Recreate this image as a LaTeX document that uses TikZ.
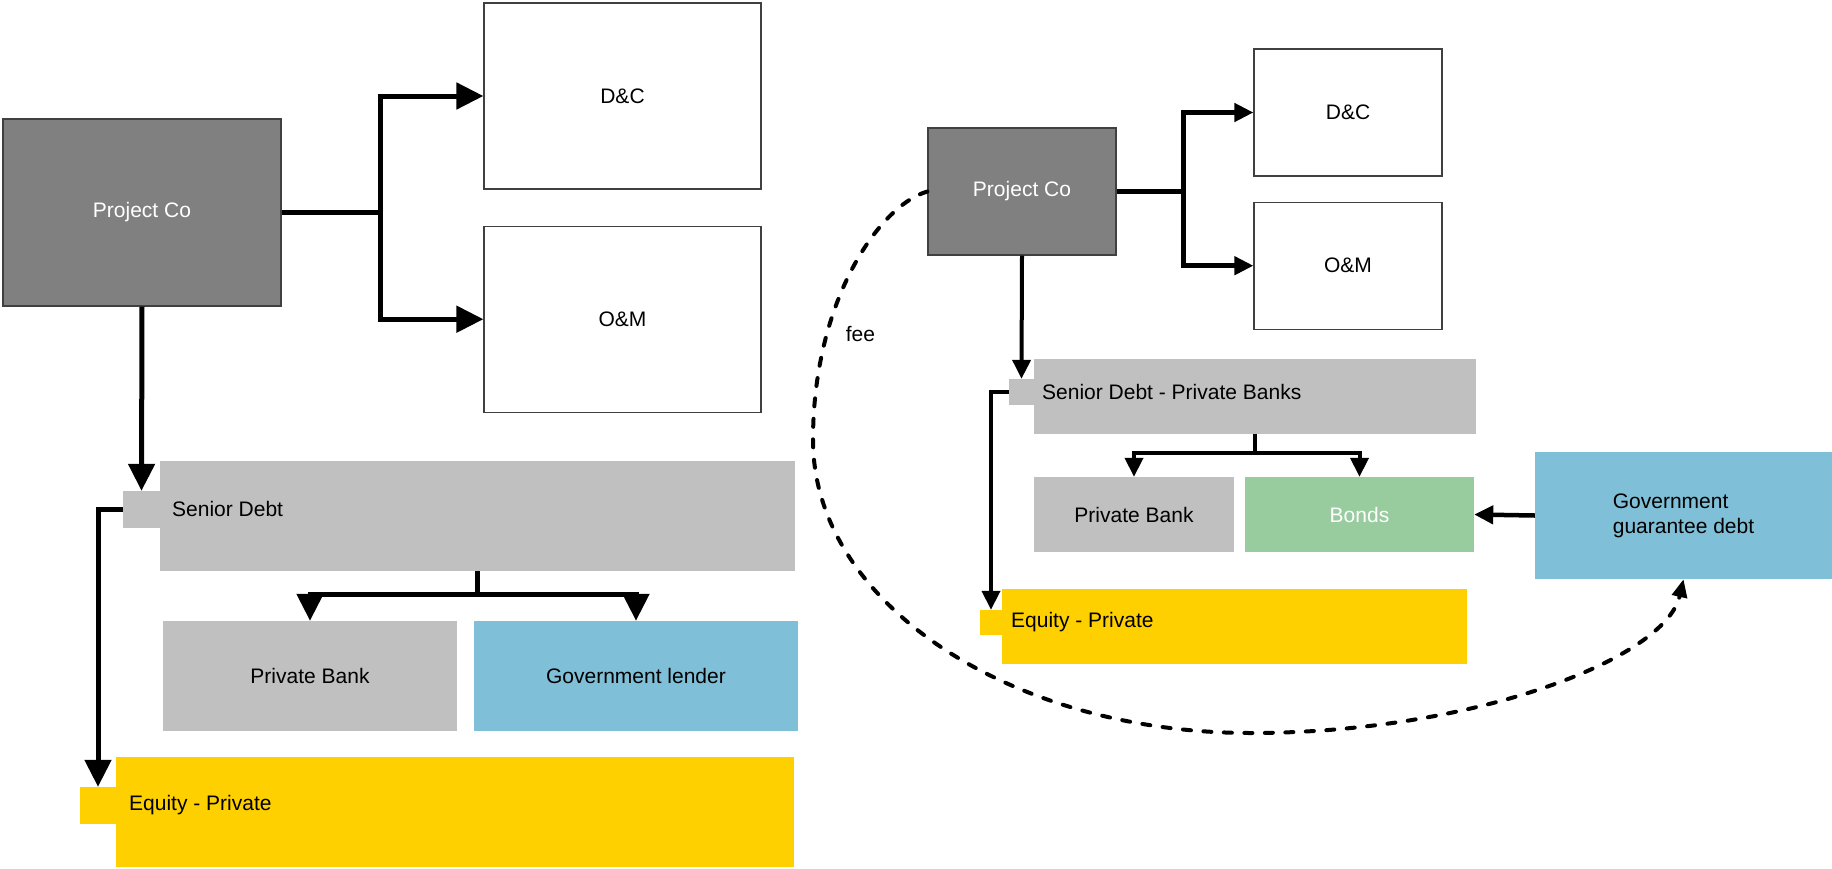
\documentclass[tikz,border=0pt]{standalone}
\usepackage{fontspec}
\setmainfont{Liberation Sans}
\usepackage{xcolor}
\usepackage{tikz}
\usetikzlibrary{arrows.meta, positioning}

\definecolor{pcgray}{HTML}{808080}
\definecolor{debtgray}{HTML}{C0C0C0}
\definecolor{govblue}{HTML}{7FBFD7}
\definecolor{eqyellow}{HTML}{FFD000}
\definecolor{bondgreen}{HTML}{98CB9E}

\begin{document}
\begin{tikzpicture}[x=1pt, y=-1pt, font=\fontsize{21}{25}\selectfont]
\tikzstyle{company} = [rectangle, draw=black!75, line width=1.2pt, fill=pcgray, text=white, inner sep=0pt]
\tikzstyle{contract} = [rectangle, draw=black!75, line width=1.2pt, fill=white, inner sep=0pt]
\tikzstyle{fund} = [rectangle, inner sep=0pt]
\tikzstyle{caption} = [inner sep=0pt, anchor=west]
\tikzstyle{line} = [draw, line width=5pt]
\tikzstyle{bigarrow} = [line, -{Triangle[length=27pt, width=26pt]}]
\tikzstyle{smallarrow} = [line, line width=4.5pt, -{Triangle[length=19pt, width=18pt]}]
\tikzstyle{feeline} = [draw, line width=4pt, line cap=round, dash pattern=on 8pt off 12.5pt, -{Triangle[length=18pt, width=15pt]}]

\useasboundingbox (0,0) rectangle (1832,868);

% first structure
\node [company, minimum width=278pt, minimum height=187pt] (pc1) at (142,212.5) {Project Co};
\node [contract, minimum width=277pt, minimum height=186pt] (dc1) at (622.5,96) {D\&C};
\node [contract, minimum width=277pt, minimum height=186pt, below=36pt of dc1] (om1) {O\&M};
\node [fund, fill=debtgray, minimum width=635pt, minimum height=110pt] (sd1) at (477.5,516) {};
\node [fund, fill=debtgray, minimum width=37pt, minimum height=37pt] (sdtab1) at (141.5,509.5) {};
\node [caption] (sdtxt1) at (172,509) {Senior Debt};
\node [fund, fill=debtgray, minimum width=294pt, minimum height=110pt] (pb1) at (310,676) {Private Bank};
\node [fund, fill=govblue, minimum width=324pt, minimum height=110pt] (gl1) at (636,676) {Government lender};
\node [fund, fill=eqyellow, minimum width=678pt, minimum height=110pt] (eq1) at (455,812) {};
\node [fund, fill=eqyellow, minimum width=36pt, minimum height=37pt] (eqtab1) at (98,805.5) {};
\node [caption] (eqtxt1) at (129,805) {Equity - Private};

\draw [line] (pc1.east) -- ++(99,0) coordinate (fork1);
\draw [bigarrow] (fork1) |- (dc1.west);
\draw [bigarrow] (fork1) |- (om1.west);
\draw [bigarrow] (pc1.south) -- (sdtab1.north);
\draw [line] (sd1.south) -- ++(0,23) coordinate (fork2);
\draw [bigarrow] (fork2) -| (pb1.north);
\draw [bigarrow] (fork2) -| (gl1.north);
\draw [bigarrow] (sdtab1.west) -| (eqtab1.north);

% second structure
\node [company, minimum width=188pt, minimum height=127pt] (pc2) at (1022,191.5) {Project Co};
\node [contract, minimum width=188pt, minimum height=127pt] (dc2) at (1348,112.5) {D\&C};
\node [contract, minimum width=188pt, minimum height=127pt, below=25pt of dc2] (om2) {O\&M};
\node [fund, fill=debtgray, minimum width=442pt, minimum height=75pt] (sd2) at (1255,396.5) {};
\node [fund, fill=debtgray, minimum width=25pt, minimum height=26pt] (sdtab2) at (1021.5,392) {};
\node [caption] (sdtxt2) at (1042,392) {Senior Debt - Private Banks};
\node [fund, fill=debtgray, minimum width=200pt, minimum height=75pt] (pb2) at (1134,514.5) {Private Bank};
\node [fund, fill=bondgreen, text=white, minimum width=229pt, minimum height=75pt] (bonds) at (1359.5,514.5) {Bonds};
\node [fund, fill=govblue, align=left, minimum width=297pt, minimum height=127pt] (gg) at (1683.5,515.5) {Government\\guarantee debt};
\node [fund, fill=eqyellow, minimum width=465pt, minimum height=75pt] (eq2) at (1234.5,626.5) {};
\node [fund, fill=eqyellow, minimum width=22pt, minimum height=25pt] (eqtab2) at (991,622.5) {};
\node [caption] (eqtxt2) at (1011,622) {Equity - Private};

\draw [line, line width=4.5pt] (pc2.east) -- ++(67,0) coordinate (fork3);
\draw [smallarrow] (fork3) |- (dc2.west);
\draw [smallarrow] (fork3) |- (om2.west);
\draw [smallarrow, line width=4pt] (pc2.south) -- (sdtab2.north);
\draw [line, line width=4pt] (sd2.south) -- ++(0,19) coordinate (fork4);
\draw [smallarrow, line width=4pt] (fork4) -| (pb2.north);
\draw [smallarrow, line width=4pt] (fork4) -| (bonds.north);
\draw [smallarrow] (gg.west) -- (bonds.east);
\draw [smallarrow, line width=4pt] (sdtab2.west) -| (eqtab2.north);
\draw [feeline] (pc2.west) .. controls (880,205) and (813,300) .. node [pos=0.72, right=17pt, inner sep=0pt] (fee) {fee} (813,440)
  .. controls (813,602) and (1009,733) .. (1251,733)
  .. controls (1470,733) and (1665,660) .. (gg.south);
\end{tikzpicture}
\end{document}
